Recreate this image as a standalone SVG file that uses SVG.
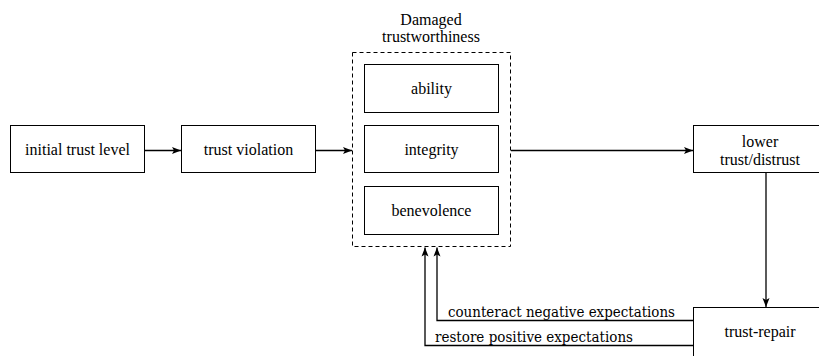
<svg xmlns="http://www.w3.org/2000/svg" width="819" height="356" viewBox="0 0 819 356">
<style>
.box{fill:#fff;stroke:#000;stroke-width:1}
.t{font-family:"Liberation Serif","Times New Roman",serif;font-size:16px;fill:#000;text-anchor:middle}
.lbl{font-family:"DejaVu Serif",serif;font-size:14px;fill:#000}
.ln{fill:none;stroke:#000;stroke-width:1.3}
</style>
<defs>
<marker id="ah" markerWidth="10" markerHeight="8" refX="9" refY="4" orient="auto" markerUnits="userSpaceOnUse">
<path d="M0,0.5 L9,4 L0,7.5 L2,4 Z" fill="#000"/>
</marker>
</defs>
<rect width="819" height="356" fill="#fff"/>
<g id="node-initial">
<rect class="box" x="10.5" y="125.5" width="134" height="47"/>
<text class="t" x="77.5" y="155">initial trust level</text>
</g>
<g id="node-violation">
<rect class="box" x="181.5" y="125.5" width="134" height="47"/>
<text class="t" x="248.5" y="155">trust violation</text>
</g>
<g id="node-damaged">
<rect x="352.5" y="52.5" width="158" height="194" fill="none" stroke="#000" stroke-width="1" stroke-dasharray="4,3"/>
<text class="t" x="431" y="25">Damaged</text>
<text class="t" x="431" y="42">trustworthiness</text>
</g>
<g id="node-ability">
<rect class="box" x="364.5" y="64.5" width="134" height="48"/>
<text class="t" x="431.5" y="94">ability</text>
</g>
<g id="node-integrity">
<rect class="box" x="364.5" y="125.5" width="134" height="47"/>
<text class="t" x="431.5" y="155">integrity</text>
</g>
<g id="node-benevolence">
<rect class="box" x="364.5" y="186.5" width="134" height="48"/>
<text class="t" x="431.5" y="216">benevolence</text>
</g>
<g id="node-lower">
<rect class="box" x="693.5" y="125.5" width="140" height="47"/>
<text class="t" x="760" y="146.5">lower</text>
<text class="t" x="760" y="165">trust/distrust</text>
</g>
<g id="node-repair">
<rect class="box" x="693.5" y="307.5" width="140" height="60"/>
<text class="t" x="760" y="337">trust-repair</text>
</g>
<g id="connectors">
<line class="ln" x1="145" y1="150.5" x2="181" y2="150.5" marker-end="url(#ah)"/>
<line class="ln" x1="316" y1="150.5" x2="352" y2="150.5" marker-end="url(#ah)"/>
<line class="ln" x1="511" y1="150.5" x2="693" y2="150.5" marker-end="url(#ah)"/>
<line class="ln" x1="766" y1="173" x2="766" y2="307" marker-end="url(#ah)"/>
<polyline class="ln" points="693,320.5 437,320.5 437,247.5" marker-end="url(#ah)"/>
<polyline class="ln" points="693,345.5 425,345.5 425,247.5" marker-end="url(#ah)"/>
<text class="lbl" x="448" y="317" textLength="227" lengthAdjust="spacingAndGlyphs">counteract negative expectations</text>
<text class="lbl" x="435" y="342" textLength="198" lengthAdjust="spacingAndGlyphs">restore positive expectations</text>
</g>
</svg>
